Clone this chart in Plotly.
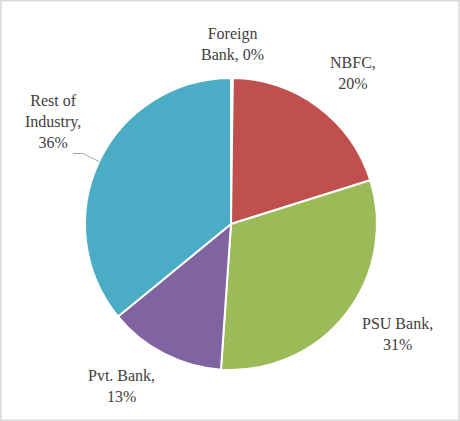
import math
import plotly.graph_objects as go

# Share of lending by institution type
categories = ["Foreign Bank", "NBFC", "PSU Bank", "Pvt. Bank", "Rest of Industry"]
shares = [0.2, 20, 31, 13, 36]
label_text = ["Foreign<br>Bank, 0%", "NBFC,<br>20%", "PSU Bank,<br>31%", "Pvt. Bank,<br>13%", "Rest of<br>Industry,<br>36%"]
colors = ["#4F81BD", "#C0504D", "#9BBB59", "#8064A2", "#4BACC6"]

W, H = 460, 421
cx, cy, R = 231, 224, 146          # pie centre / radius in pixels (from top-left)
label_dist = [1.23, 1.33, 1.37, 1.34, 1.41]     # label distance, in radii
label_turn = [0.0, 2.4, -4.8, 6.7, 4.6]         # angular nudge of each label, degrees

fig = go.Figure(go.Pie(
    labels=categories,
    values=shares,
    sort=False,
    direction="clockwise",
    rotation=0,
    marker=dict(colors=colors, line=dict(color="white", width=2)),
    textinfo="none",
    hoverinfo="label+percent",
    domain=dict(x=[(cx - R) / W, (cx + R) / W],
                y=[(H - cy - R) / H, (H - cy + R) / H]),
    showlegend=False,
))

total = sum(shares)
cum = 0.0
annotations = []
shapes = []
for name, v, txt, k, turn in zip(categories, shares, label_text, label_dist, label_turn):
    mid = (cum + v / 2) / total * 2 * math.pi
    cum += v
    a = mid + math.radians(turn)
    px = cx + k * R * math.sin(a)
    py = cy - k * R * math.cos(a)
    annotations.append(dict(
        x=px / W, y=1 - py / H, xref="paper", yref="paper",
        xanchor="center", yanchor="middle",
        text=txt, showarrow=False, align="center",
        font=dict(family="Liberation Serif, DejaVu Serif, serif", size=16, color="#404040"),
    ))
    if name == "Rest of Industry":
        # leader line from slice edge to the label
        ex = cx + R * math.sin(mid)
        ey = cy - R * math.cos(mid)
        bx, by = ex - 16, ey - 8
        hx = bx - 10
        shapes.append(dict(
            type="path", xref="paper", yref="paper",
            path=f"M {ex / W} {1 - ey / H} L {bx / W} {1 - by / H} L {hx / W} {1 - by / H}",
            line=dict(color="#A6A6A6", width=1),
        ))

# chart area border
shapes.append(dict(type="rect", xref="paper", yref="paper", x0=0.002, y0=0.002, x1=0.998, y1=0.998,
                   line=dict(color="#D9D9D9", width=1.5)))

fig.update_layout(
    width=W, height=H,
    margin=dict(l=0, r=0, t=0, b=0),
    paper_bgcolor="white",
    plot_bgcolor="white",
    annotations=annotations,
    shapes=shapes,
)

fig.write_html("out.html")
